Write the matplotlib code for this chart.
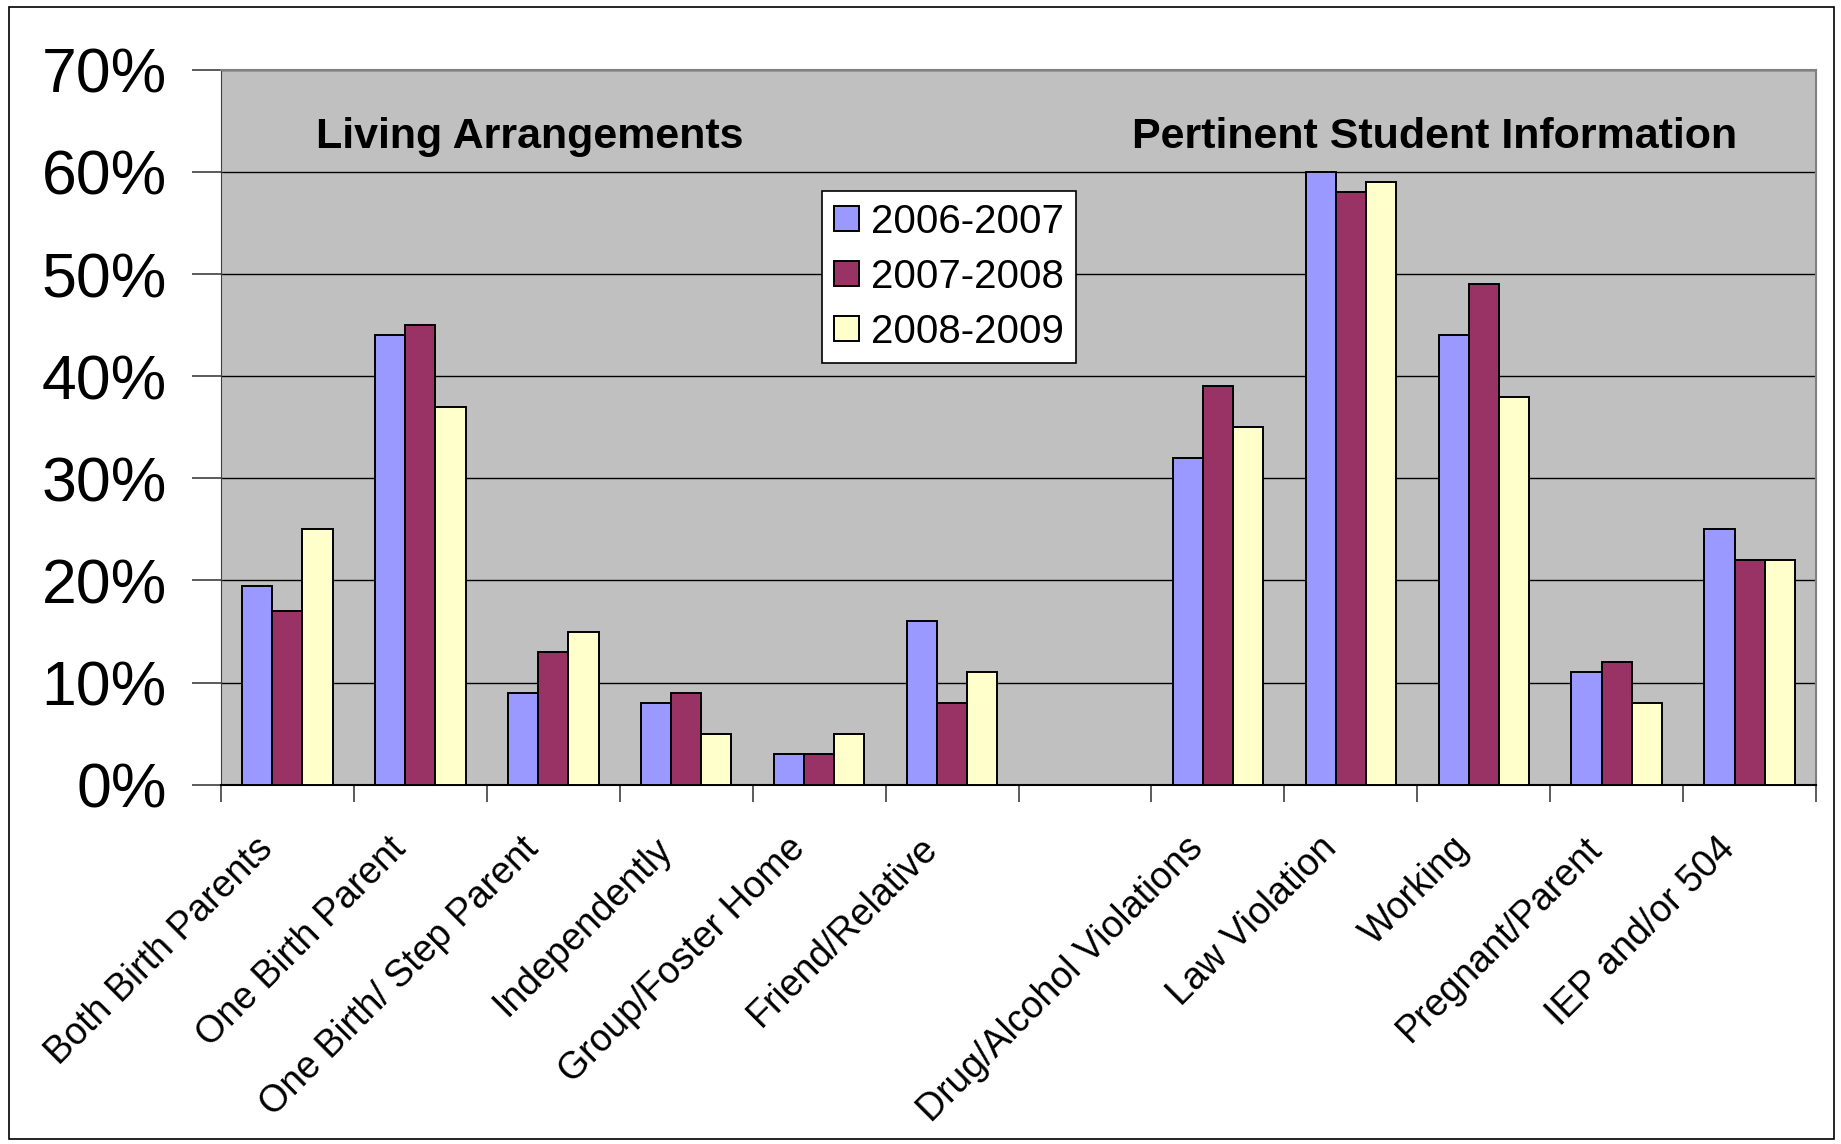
import numpy as np
from matplotlib import pyplot as plt
from matplotlib.patches import Rectangle
from matplotlib.transforms import ScaledTranslation

plt.rcParams['font.family'] = ['Liberation Sans', 'DejaVu Sans']

categories = ['Both Birth Parents', 'One Birth Parent', 'One Birth/ Step Parent',
              'Independently', 'Group/Foster Home', 'Friend/Relative', '',
              'Drug/Alcohol Violations', 'Law Violation', 'Working',
              'Pregnant/Parent', 'IEP and/or 504']
y2006 = [19.5, 44, 9, 8, 3, 16, np.nan, 32, 60, 44, 11, 25]
y2007 = [17, 45, 13, 9, 3, 8, np.nan, 39, 58, 49, 12, 22]
y2008 = [25, 37, 15, 5, 5, 11, np.nan, 35, 59, 38, 8, 22]
series = [('2006-2007', y2006, '#9999FF'),
          ('2007-2008', y2007, '#993366'),
          ('2008-2009', y2008, '#FFFFCC')]
yticks = [0, 10, 20, 30, 40, 50, 60, 70]


def make_figure():
    fig = plt.figure(figsize=(18.41, 11.44), dpi=100)
    ax = fig.add_axes([0.120, 0.314, 0.8665, 0.625])
    fig.patches.append(Rectangle((0.005, 0.004), 0.991, 0.99, transform=fig.transFigure,
                                 fill=False, edgecolor='black', linewidth=1.2))
    return fig, ax


if __name__ == '__main__':
    fig, ax = make_figure()
    x = np.arange(len(categories))
    w = 0.227

    ax.set_facecolor('#C0C0C0')
    ax.set_axisbelow(True)
    ax.grid(axis='y', color='black', linewidth=1.0)

    for k, (name, vals, col) in enumerate(series):
        ax.bar(x + (k - 1) * w, vals, width=w, color=col, edgecolor='black',
               linewidth=1.4, label=name, zorder=3)

    ax.set_xlim(-0.5, len(categories) - 0.5)
    ax.set_ylim(0, 70)
    ax.set_yticks(yticks)
    ax.set_yticklabels([f'{v}%' for v in yticks], fontsize=45)
    ax.tick_params(axis='y', length=21, width=1.2, pad=18, color='#404040')

    ax.set_xticks(x)
    ax.set_xticklabels(categories, fontsize=27, rotation=45, ha='right',
                       va='center', rotation_mode='anchor')
    ax.tick_params(axis='x', which='major', length=0, pad=42)
    shift = ScaledTranslation(-0.2, 0, fig.dpi_scale_trans)
    for lbl in ax.get_xticklabels():
        lbl.set_transform(lbl.get_transform() + shift)
    ax.set_xticks(np.arange(-0.5, len(categories), 1.0), minor=True)
    ax.tick_params(axis='x', which='minor', length=12, width=1.2, color='#404040')

    for side in ['top', 'right']:
        ax.spines[side].set_color('#808080')
        ax.spines[side].set_linewidth(1.5)
    ax.spines['left'].set_color('#404040')
    ax.spines['bottom'].set_color('black')
    ax.spines['bottom'].set_linewidth(1.5)

    ax.text(1.82, 63.4, 'Living Arrangements', fontsize=31, fontweight='bold',
            ha='center', va='center')
    ax.text(8.63, 63.4, 'Pertinent Student Information', fontsize=31,
            fontweight='bold', ha='center', va='center')

    leg = ax.legend(loc='upper left', bbox_to_anchor=(0.377, 0.831), fontsize=29,
                    fancybox=False, framealpha=1, edgecolor='black',
                    handlelength=0.6, handleheight=0.6, handletextpad=0.3,
                    labelspacing=0.42, borderpad=0.3, borderaxespad=0)
    leg.get_frame().set_linewidth(1.2)

    fig.savefig('out.png', dpi=100)
    plt.close(fig)
